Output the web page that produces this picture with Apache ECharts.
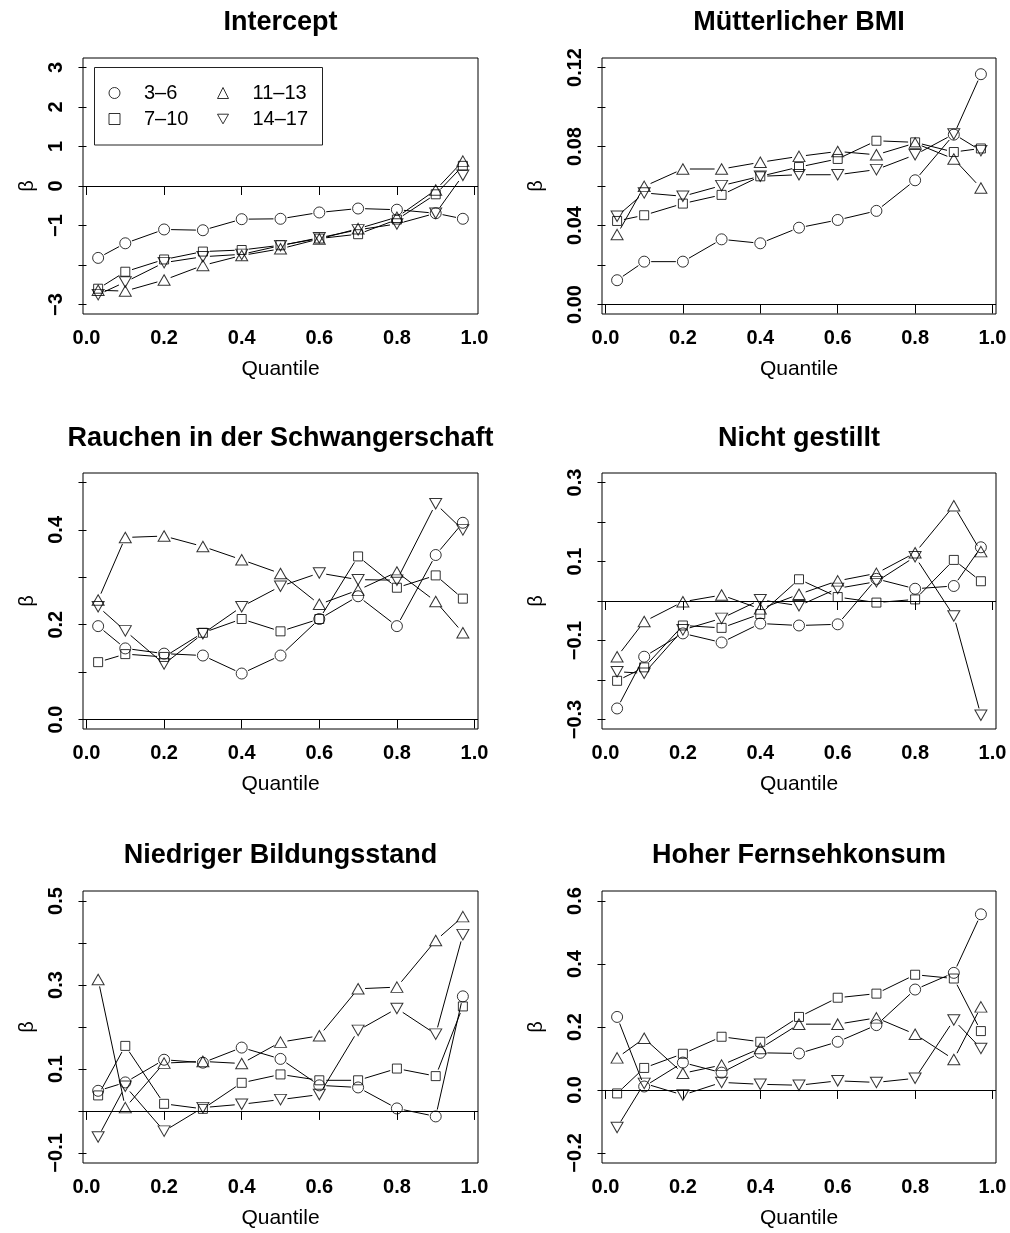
<!DOCTYPE html>
<html>
<head>
<meta charset="utf-8">
<script src="https://cdn.jsdelivr.net/npm/echarts@6/dist/echarts.min.js"></script>
<style>
  html, body { margin: 0; padding: 0; background: #fff; }
  #chart { width: 1010px; height: 1233px; }
</style>
</head>
<body>
<div id="chart"></div>
<script>
// Quantile levels at which the regressions were fitted
const quantiles = [0.03, 0.1, 0.2, 0.3, 0.4, 0.5, 0.6, 0.7, 0.8, 0.9, 0.97];
const ageGroups = ['3–6', '7–10', '11–13', '14–17'];
const panelTitles = ['Intercept', 'Mütterlicher BMI', 'Rauchen in der Schwangerschaft',
                     'Nicht gestillt', 'Niedriger Bildungsstand', 'Hoher Fernsehkonsum'];
const xTickValues = [0, 0.2, 0.4, 0.6, 0.8, 1.0];

// Coefficients per age group
const intercept_3_6   = [-1.82, -1.45, -1.10, -1.12, -0.84, -0.83, -0.67, -0.57, -0.60, -0.69, -0.83];
const intercept_7_10  = [-2.60, -2.17, -1.86, -1.66, -1.62, -1.50, -1.33, -1.22, -0.85, -0.21, 0.51];
const intercept_11_13 = [-2.64, -2.66, -2.38, -2.01, -1.76, -1.59, -1.34, -1.08, -0.79, -0.10, 0.63];
const intercept_14_17 = [-2.75, -2.43, -1.94, -1.79, -1.73, -1.51, -1.31, -1.11, -0.96, -0.69, 0.27];

const bmi_3_6   = [0.0123, 0.0217, 0.0217, 0.0330, 0.0310, 0.0389, 0.0428, 0.0474, 0.0629, 0.0860, 0.1166];
const bmi_7_10  = [0.0423, 0.0452, 0.0511, 0.0555, 0.0649, 0.0696, 0.0737, 0.0829, 0.0821, 0.0772, 0.0790];
const bmi_11_13 = [0.0354, 0.0598, 0.0686, 0.0686, 0.0720, 0.0750, 0.0775, 0.0758, 0.0817, 0.0737, 0.0590];
const bmi_14_17 = [0.0447, 0.0565, 0.0548, 0.0602, 0.0649, 0.0657, 0.0657, 0.0683, 0.0758, 0.0863, 0.0779];

const smoking_3_6   = [0.197, 0.150, 0.139, 0.135, 0.097, 0.135, 0.212, 0.260, 0.197, 0.347, 0.415];
const smoking_7_10  = [0.121, 0.138, 0.132, 0.183, 0.212, 0.186, 0.212, 0.344, 0.278, 0.304, 0.255];
const smoking_11_13 = [0.252, 0.384, 0.387, 0.365, 0.337, 0.308, 0.243, 0.273, 0.311, 0.249, 0.183];
const smoking_14_17 = [0.238, 0.187, 0.117, 0.181, 0.238, 0.281, 0.309, 0.295, 0.294, 0.455, 0.400];

const notBreastfed_3_6   = [-0.272, -0.141, -0.082, -0.105, -0.057, -0.062, -0.059, 0.056, 0.031, 0.038, 0.136];
const notBreastfed_7_10  = [-0.202, -0.168, -0.062, -0.068, -0.033, 0.055, 0.010, -0.004, 0.004, 0.104, 0.050];
const notBreastfed_11_13 = [-0.141, -0.052, -0.002, 0.015, -0.020, 0.017, 0.051, 0.070, 0.122, 0.241, 0.125];
const notBreastfed_14_17 = [-0.179, -0.183, -0.073, -0.044, 0.003, -0.012, 0.032, 0.049, 0.112, -0.038, -0.289];

const lowEducation_3_6   = [0.048, 0.068, 0.122, 0.115, 0.151, 0.124, 0.061, 0.056, 0.006, -0.013, 0.273];
const lowEducation_7_10  = [0.037, 0.155, 0.017, 0.005, 0.067, 0.087, 0.073, 0.073, 0.101, 0.083, 0.249];
const lowEducation_11_13 = [0.313, 0.008, 0.114, 0.118, 0.113, 0.164, 0.179, 0.291, 0.295, 0.406, 0.463];
const lowEducation_14_17 = [-0.062, 0.059, -0.048, 0.008, 0.016, 0.027, 0.039, 0.192, 0.244, 0.183, 0.420];

const highTv_3_6   = [0.232, 0.011, 0.087, 0.055, 0.118, 0.116, 0.153, 0.206, 0.319, 0.372, 0.558];
const highTv_7_10  = [-0.011, 0.070, 0.115, 0.169, 0.153, 0.232, 0.293, 0.306, 0.366, 0.354, 0.187];
const highTv_11_13 = [0.102, 0.164, 0.053, 0.079, 0.132, 0.209, 0.209, 0.229, 0.177, 0.097, 0.264];
const highTv_14_17 = [-0.119, 0.021, -0.016, 0.024, 0.018, 0.015, 0.029, 0.024, 0.037, 0.222, 0.132];

// y-axis tick positions and the subset that carries a label
const yTicksIntercept = [-3, -2, -1, 0, 1, 2, 3];
const yLabelsIntercept = [-3, -1, 0, 1, 2, 3];
const yTicksBmi = [0, 0.02, 0.04, 0.06, 0.08, 0.10, 0.12];
const yLabelsBmi = [0, 0.04, 0.08, 0.12];
const yTicksSmoking = [0, 0.1, 0.2, 0.3, 0.4, 0.5];
const yLabelsSmoking = [0, 0.2, 0.4];
const yTicksBreastfed = [-0.3, -0.2, -0.1, 0, 0.1, 0.2, 0.3];
const yLabelsBreastfed = [-0.3, -0.1, 0.1, 0.3];
const yTicksEducation = [-0.1, 0, 0.1, 0.2, 0.3, 0.4, 0.5];
const yLabelsEducation = [-0.1, 0.1, 0.3, 0.5];
const yTicksTv = [-0.2, 0, 0.2, 0.4, 0.6];
const yLabelsTv = [-0.2, 0, 0.2, 0.4, 0.6];

const panels = [
  { series: [intercept_3_6, intercept_7_10, intercept_11_13, intercept_14_17],
    yRange: [-3.24, 3.24], ticks: yTicksIntercept, labels: yLabelsIntercept, digits: 0 },
  { series: [bmi_3_6, bmi_7_10, bmi_11_13, bmi_14_17],
    yRange: [-0.0048, 0.1248], ticks: yTicksBmi, labels: yLabelsBmi, digits: 2 },
  { series: [smoking_3_6, smoking_7_10, smoking_11_13, smoking_14_17],
    yRange: [-0.02, 0.52], ticks: yTicksSmoking, labels: yLabelsSmoking, digits: 1 },
  { series: [notBreastfed_3_6, notBreastfed_7_10, notBreastfed_11_13, notBreastfed_14_17],
    yRange: [-0.324, 0.324], ticks: yTicksBreastfed, labels: yLabelsBreastfed, digits: 1 },
  { series: [lowEducation_3_6, lowEducation_7_10, lowEducation_11_13, lowEducation_14_17],
    yRange: [-0.124, 0.524], ticks: yTicksEducation, labels: yLabelsEducation, digits: 1 },
  { series: [highTv_3_6, highTv_7_10, highTv_11_13, highTv_14_17],
    yRange: [-0.232, 0.632], ticks: yTicksTv, labels: yLabelsTv, digits: 1 }
];

// Layout of the 3 x 2 panel grid
const FONT = '"Liberation Sans", Arial, Helvetica, sans-serif';
const colLeft = [83, 602];
const colWidth = [395, 394];
const rowTop = [58, 473, 891];
const rowHeight = [256, 256, 272];
const titleY = [23, 439, 856];
const betaGap = [46, 56];

// One symbol style per age group (open circle, square, triangle, inverted triangle)
const markerStyles = [
  { symbol: 'circle', symbolSize: 11, symbolRotate: 0 },
  { symbol: 'rect', symbolSize: 9, symbolRotate: 0 },
  { symbol: 'triangle', symbolSize: [12, 10.5], symbolRotate: 0 },
  { symbol: 'triangle', symbolSize: [12, 10.5], symbolRotate: 180 }
];
const legendIcons = ['circle', 'rect', 'triangle', 'path://M0,0 L12,0 L6,10.5 Z'];

const SEGMENT_GAP = 7; // lines stop short of the point markers

function fmt(v, digits) {
  return v.toFixed(digits).replace('-', '\u2212');
}

const grids = [], xAxes = [], yAxes = [], series = [], graphics = [];

panels.forEach((p, i) => {
  const col = i % 2, row = Math.floor(i / 2);
  grids.push({
    left: colLeft[col], top: rowTop[row], width: colWidth[col], height: rowHeight[row],
    show: true, borderColor: '#000', borderWidth: 1, backgroundColor: 'transparent'
  });
  xAxes.push({
    type: 'value', gridIndex: i, min: -0.009, max: 1.009,
    splitLine: { show: false },
    axisLine: { show: false },
    axisTick: { show: true, length: 9, lineStyle: { color: '#000', width: 1 }, customValues: xTickValues },
    axisLabel: { customValues: xTickValues, formatter: v => fmt(v, 1), margin: 14,
                 fontSize: 20, fontWeight: 'bold', color: '#000', fontFamily: FONT },
    name: 'Quantile', nameLocation: 'middle', nameGap: 45,
    nameTextStyle: { fontSize: 21, color: '#000', fontFamily: FONT }
  });
  yAxes.push({
    type: 'value', gridIndex: i, min: p.yRange[0], max: p.yRange[1],
    splitLine: { show: false },
    axisLine: { show: false },
    axisTick: { show: true, length: 8, lineStyle: { color: '#000', width: 1 }, customValues: p.ticks },
    axisLabel: { customValues: p.labels, formatter: v => fmt(v, p.digits), rotate: 90, margin: 17,
                 fontSize: 20, fontWeight: 'bold', color: '#000', fontFamily: FONT },
    name: 'β', nameLocation: 'middle', nameRotate: 90, nameGap: betaGap[col],
    nameTextStyle: { fontSize: 20, color: '#000', fontFamily: FONT }
  });

  p.series.forEach((ys, g) => {
    // connecting segments, shortened at both ends like type = "b"
    series.push({
      type: 'custom', xAxisIndex: i, yAxisIndex: i, silent: true, z: 2,
      data: ys.slice(1).map((y, k) => [quantiles[k], ys[k], quantiles[k + 1], y]),
      encode: { x: [0, 2], y: [1, 3] },
      renderItem: (params, api) => {
        const a = api.coord([api.value(0), api.value(1)]);
        const b = api.coord([api.value(2), api.value(3)]);
        const dx = b[0] - a[0], dy = b[1] - a[1];
        const len = Math.hypot(dx, dy);
        if (len <= 2 * SEGMENT_GAP) return null;
        const ux = dx / len, uy = dy / len;
        return {
          type: 'line',
          shape: { x1: a[0] + ux * SEGMENT_GAP, y1: a[1] + uy * SEGMENT_GAP,
                   x2: b[0] - ux * SEGMENT_GAP, y2: b[1] - uy * SEGMENT_GAP },
          style: { stroke: '#000', lineWidth: 1 }
        };
      }
    });
    // open point markers
    const m = markerStyles[g];
    const s = {
      type: 'scatter', name: ageGroups[g], xAxisIndex: i, yAxisIndex: i, silent: true, z: 3,
      data: quantiles.map((q, k) => [q, ys[k]]),
      symbol: m.symbol, symbolSize: m.symbolSize, symbolRotate: m.symbolRotate,
      itemStyle: { color: 'rgba(255,255,255,0)', borderColor: '#000', borderWidth: 1 },
      emphasis: { disabled: true }
    };
    if (g === 0) {
      s.markLine = {
        silent: true, symbol: 'none', label: { show: false }, animation: false,
        lineStyle: { color: '#000', width: 1, type: 'solid' },
        data: [{ yAxis: 0 }]
      };
    }
    series.push(s);
  });

  graphics.push({
    type: 'text', x: colLeft[col] + colWidth[col] / 2, y: titleY[row], silent: true,
    style: { text: panelTitles[i], fill: '#000', font: 'bold 27px ' + FONT,
             align: 'center', verticalAlign: 'middle' }
  });
});

// frame around the legend in the first panel
graphics.push({
  type: 'rect', silent: true,
  shape: { x: 94.5, y: 67.5, width: 228, height: 77.5 },
  style: { fill: 'none', stroke: '#222', lineWidth: 1 }
});

const legendCommon = {
  orient: 'vertical', padding: 0, itemGap: 6, itemWidth: 11, itemHeight: 11,
  selectedMode: false, symbolRotate: 0,
  itemStyle: { color: 'rgba(255,255,255,0)', borderColor: '#000', borderWidth: 1 },
  textStyle: { fontSize: 20, color: '#000', fontFamily: FONT, padding: [0, 0, 0, 19] }
};

const option = {
  animation: false,
  backgroundColor: '#fff',
  grid: grids,
  xAxis: xAxes,
  yAxis: yAxes,
  legend: [
    Object.assign({ left: 108.5, top: 83,
      data: [{ name: ageGroups[0], icon: legendIcons[0] }, { name: ageGroups[1], icon: legendIcons[1] }] },
      legendCommon),
    Object.assign({ left: 217, top: 83,
      data: [{ name: ageGroups[2], icon: legendIcons[2] }, { name: ageGroups[3], icon: legendIcons[3] }] },
      legendCommon)
  ],
  graphic: graphics,
  series: series
};

const chart = echarts.init(document.getElementById('chart'), null, { renderer: 'canvas' });
chart.setOption(option);
</script>
</body>
</html>
